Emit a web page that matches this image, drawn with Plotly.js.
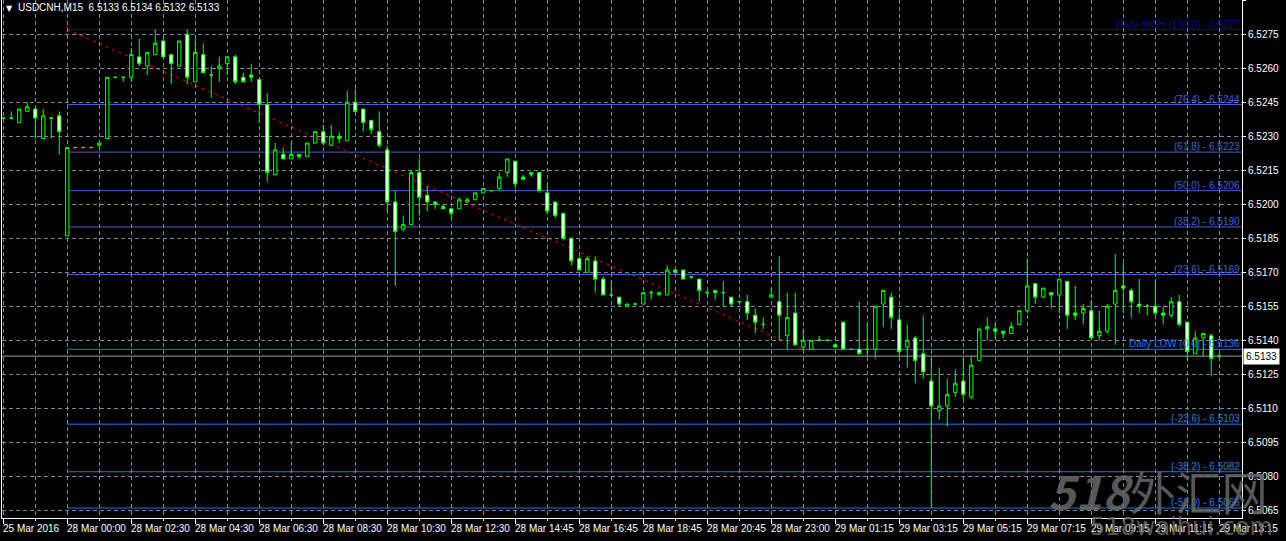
<!DOCTYPE html>
<html><head><meta charset="utf-8">
<script src="https://cdn.plot.ly/plotly-3.0.1.min.js"></script>
<style>html,body{margin:0;padding:0;background:#000;}#chart{width:1286px;height:541px;}</style>
</head><body><div id="chart"></div>
<script>
const symbolTitle = "USDCNH,M15\u00a0\u00a06.5133 6.5134 6.5132 6.5133";

const opens = [
6.5238,6.5238,6.5236,6.5241,6.5242,6.5229,6.5238,6.5239,6.5186,6.5225,
6.5225,6.5225,6.5226,6.5229,6.5256,6.5256,6.5256,6.5265,6.5261,6.5266,
6.5272,6.5266,6.5261,6.5275,6.5254,6.5266,6.5257,6.5260,6.5262,6.5265,
6.5256,6.5257,6.5255,6.5244,6.5213,6.5222,6.5220,6.5222,6.5221,6.5227,
6.5232,6.5226,6.5230,6.5228,6.5245,6.5242,6.5237,6.5232,6.5224,6.5201,
6.5189,6.5191,6.5214,6.5204,6.5201,6.5199,6.5198,6.5198,6.5201,6.5202,
6.5205,6.5206,6.5207,6.5214,6.5219,6.5212,6.5213,6.5214,6.5205,6.5201,
6.5196,6.5185,6.5176,6.5170,6.5175,6.5167,6.5160,6.5159,6.5155,6.5156,
6.5156,6.5161,6.5160,6.5160,6.5171,6.5171,6.5168,6.5167,6.5161,6.5162,
6.5161,6.5159,6.5157,6.5157,6.5151,6.5147,6.5159,6.5157,6.5142,6.5152,
6.5137,6.5136,6.5140,6.5140,6.5138,6.5148,6.5136,6.5136,6.5136,6.5136,
6.5156,6.5159,6.5149,6.5137,6.5141,6.5134,6.5122,6.5109,6.5111,6.5117,
6.5122,6.5115,6.5131,6.5145,6.5145,6.5144,6.5143,6.5147,6.5153,6.5165,
6.5159,6.5161,6.5160,6.5166,6.5152,6.5152,6.5153,6.5142,6.5144,6.5156,
6.5164,6.5162,6.5156,6.5155,6.5155,6.5152,6.5151,6.5157,6.5148,6.5134,
6.5141,6.5142,6.5133];
const highs = [
6.5238,6.5241,6.5242,6.5245,6.5242,6.5242,6.5238,6.5241,6.5225,6.5225,
6.5225,6.5225,6.5227,6.5256,6.5256,6.5256,6.5269,6.5273,6.5267,6.5277,
6.5273,6.5266,6.5272,6.5277,6.5273,6.5271,6.5261,6.5265,6.5265,6.5266,
6.5258,6.5262,6.5255,6.5249,6.5227,6.5225,6.5227,6.5222,6.5227,6.5232,
6.5235,6.5235,6.5232,6.5250,6.5251,6.5242,6.5237,6.5241,6.5226,6.5206,
6.5195,6.5215,6.5220,6.5208,6.5201,6.5200,6.5198,6.5203,6.5203,6.5205,
6.5207,6.5206,6.5214,6.5220,6.5219,6.5213,6.5214,6.5214,6.5209,6.5201,
6.5196,6.5185,6.5177,6.5177,6.5177,6.5168,6.5166,6.5159,6.5156,6.5156,
6.5161,6.5162,6.5161,6.5173,6.5171,6.5171,6.5168,6.5167,6.5162,6.5162,
6.5166,6.5159,6.5157,6.5160,6.5154,6.5150,6.5163,6.5177,6.5161,6.5161,
6.5145,6.5140,6.5142,6.5140,6.5138,6.5148,6.5136,6.5157,6.5148,6.5155,
6.5162,6.5161,6.5153,6.5147,6.5142,6.5151,6.5132,6.5128,6.5123,6.5127,
6.5132,6.5133,6.5145,6.5150,6.5148,6.5144,6.5148,6.5153,6.5176,6.5165,
6.5163,6.5161,6.5167,6.5166,6.5164,6.5156,6.5158,6.5153,6.5156,6.5178,
6.5174,6.5163,6.5167,6.5156,6.5167,6.5155,6.5159,6.5160,6.5148,6.5144,
6.5143,6.5143,6.5134];
const lows = [
6.5238,6.5238,6.5236,6.5241,6.5229,6.5229,6.5229,6.5222,6.5186,6.5225,
6.5225,6.5225,6.5225,6.5229,6.5256,6.5254,6.5254,6.5261,6.5257,6.5266,
6.5265,6.5253,6.5261,6.5253,6.5254,6.5258,6.5247,6.5254,6.5257,6.5253,
6.5254,6.5254,6.5236,6.5210,6.5213,6.5220,6.5220,6.5220,6.5221,6.5227,
6.5226,6.5226,6.5227,6.5228,6.5241,6.5232,6.5231,6.5225,6.5197,6.5164,
6.5188,6.5191,6.5195,6.5197,6.5198,6.5198,6.5194,6.5198,6.5201,6.5202,
6.5205,6.5206,6.5206,6.5212,6.5207,6.5211,6.5212,6.5205,6.5196,6.5194,
6.5184,6.5173,6.5171,6.5170,6.5161,6.5160,6.5160,6.5155,6.5155,6.5156,
6.5156,6.5158,6.5160,6.5160,6.5170,6.5167,6.5167,6.5157,6.5160,6.5158,
6.5155,6.5155,6.5157,6.5149,6.5143,6.5145,6.5159,6.5140,6.5136,6.5138,
6.5135,6.5136,6.5140,6.5140,6.5137,6.5136,6.5136,6.5134,6.5133,6.5132,
6.5146,6.5145,6.5133,6.5128,6.5121,6.5123,6.5067,6.5105,6.5102,6.5115,
6.5114,6.5114,6.5131,6.5140,6.5141,6.5141,6.5143,6.5147,6.5152,6.5156,
6.5159,6.5154,6.5152,6.5145,6.5149,6.5147,6.5141,6.5140,6.5143,6.5138,
6.5152,6.5150,6.5152,6.5151,6.5151,6.5147,6.5150,6.5146,6.5131,6.5134,
6.5133,6.5124,6.5132];
const closes = [
6.5238,6.5238,6.5242,6.5243,6.5238,6.5239,6.5238,6.5232,6.5225,6.5225,
6.5225,6.5225,6.5227,6.5256,6.5256,6.5256,6.5266,6.5262,6.5267,6.5271,
6.5265,6.5262,6.5272,6.5256,6.5267,6.5258,6.5257,6.5261,6.5265,6.5254,
6.5254,6.5256,6.5244,6.5214,6.5224,6.5220,6.5222,6.5221,6.5227,6.5232,
6.5227,6.5230,6.5229,6.5245,6.5241,6.5236,6.5233,6.5226,6.5201,6.5188,
6.5191,6.5214,6.5203,6.5201,6.5200,6.5198,6.5196,6.5202,6.5202,6.5205,
6.5207,6.5206,6.5212,6.5220,6.5209,6.5211,6.5214,6.5206,6.5197,6.5195,
6.5185,6.5175,6.5171,6.5176,6.5167,6.5160,6.5160,6.5156,6.5156,6.5156,
6.5161,6.5161,6.5161,6.5171,6.5170,6.5167,6.5168,6.5162,6.5161,6.5161,
6.5161,6.5156,6.5157,6.5152,6.5148,6.5147,6.5160,6.5151,6.5150,6.5138,
6.5140,6.5140,6.5140,6.5140,6.5137,6.5136,6.5136,6.5134,6.5136,6.5155,
6.5162,6.5150,6.5135,6.5140,6.5131,6.5126,6.5111,6.5111,6.5116,6.5121,
6.5116,6.5129,6.5145,6.5146,6.5144,6.5143,6.5146,6.5153,6.5164,6.5159,
6.5163,6.5160,6.5167,6.5151,6.5151,6.5154,6.5141,6.5144,6.5155,6.5162,
6.5163,6.5157,6.5155,6.5155,6.5152,6.5151,6.5157,6.5147,6.5135,6.5141,
6.5143,6.5132,6.5133];

const timeLabels = ["25 Mar 2016","28 Mar 00:00","28 Mar 02:30","28 Mar 04:30","28 Mar 06:30",
  "28 Mar 08:30","28 Mar 10:30","28 Mar 12:30","28 Mar 14:45","28 Mar 16:45","28 Mar 18:45",
  "28 Mar 20:45","28 Mar 23:00","29 Mar 01:15","29 Mar 03:15","29 Mar 05:15","29 Mar 07:15",
  "29 Mar 09:15","29 Mar 11:15","29 Mar 13:15"];
const timeLabelBars = [0,8,16,24,32,40,48,56,64,72,80,88,96,104,112,120,128,136,144,152];

const priceTicks = [6.5065,6.5080,6.5095,6.5110,6.5125,6.5140,6.5155,6.5170,6.5185,6.5200,
  6.5215,6.5230,6.5245,6.5260,6.5275,6.5290];

const fibPrices = [6.5277,6.5244,6.5223,6.5206,6.5190,6.5169,6.5136,6.5103,6.5082,6.5066];
const fibLabels = ["Daily HIGH (100.0) - 6.5277","(76.4) - 6.5244","(61.8) - 6.5223","(50.0) - 6.5206",
  "(38.2) - 6.5190","(23.6) - 6.5169","Daily LOW (0.0) - 6.5136","(-23.6) - 6.5103",
  "(-38.2) - 6.5082","(-50.0) - 6.5066"];
const fibColors = ["#0a0a96","#3d63d6","#3d63d6","#3d63d6","#3d63d6","#3d63d6",
  "#2479ee","#2479ee","#2479ee","#2479ee"];
const fibStartBar = 8, fibEndBar = 100;
const fibHigh = 6.5277, fibLow = 6.5136;
const currentPrice = 6.5133;

const xRange = [-0.16, 154.84];
const yRange = [6.50616, 6.52901];

const bars = opens.map((_, i) => i);
const gridColor = "#7a8898";
const gridDash = "4px,3px";
const axisFont = {family: "Liberation Sans, Arial, sans-serif", size: 10, color: "#ffffff"};

const trace = {
  type: "candlestick", x: bars, open: opens, high: highs, low: lows, close: closes,
  increasing: {line: {color: "#00ff00", width: 1}, fillcolor: "#000000"},
  decreasing: {line: {color: "#00ff00", width: 1}, fillcolor: "#ffffff"},
  whiskerwidth: 0, hoverinfo: "skip"
};

const shapes = [];
fibPrices.forEach((p, i) => {
  shapes.push({type: "line", xref: "x", yref: "y", x0: fibStartBar, x1: xRange[1], y0: p, y1: p,
    line: {color: fibColors[i], width: 1}, layer: "below"});
});
shapes.push({type: "line", xref: "x", yref: "y", x0: fibStartBar, x1: fibEndBar, y0: fibHigh, y1: fibLow,
  line: {color: "#ff0000", width: 1, dash: "3px,4px"}, layer: "below"});
shapes.push({type: "line", xref: "x", yref: "y", x0: fibStartBar, x1: fibStartBar, y0: fibHigh, y1: yRange[1],
  line: {color: "#ff0000", width: 1, dash: "3px,3px"}, layer: "below"});
shapes.push({type: "line", xref: "paper", yref: "y", x0: 0, x1: 1, y0: currentPrice, y1: currentPrice,
  line: {color: "#a0a0a0", width: 1}, layer: "below"});

const annotations = [];
timeLabels.forEach((t, i) => {
  annotations.push({xref: "x", yref: "paper", x: timeLabelBars[i], y: 0, xanchor: "left", yanchor: "top",
    xshift: -1, yshift: -4, text: t, showarrow: false, borderpad: 0,
    font: {family: "Liberation Sans Narrow, Liberation Sans, Arial, sans-serif", size: 10, color: "#ffffff"}});
});
fibLabels.forEach((t, i) => {
  annotations.push({xref: "paper", yref: "y", x: 1, y: fibPrices[i], xanchor: "right", yanchor: "bottom",
    xshift: -1, yshift: -1, text: t, showarrow: false, borderpad: 0,
    font: {family: "Liberation Sans, Arial, sans-serif", size: 10, color: fibColors[i]}});
});
annotations.push({xref: "paper", yref: "paper", x: 0, y: 1, xanchor: "left", yanchor: "top",
  xshift: 3, yshift: -3, text: "▼", showarrow: false, borderpad: 0,
  font: {family: "DejaVu Sans, sans-serif", size: 8, color: "#ffffff"}});
annotations.push({xref: "paper", yref: "paper", x: 0, y: 1, xanchor: "left", yanchor: "top",
  xshift: 15, yshift: -1, text: symbolTitle, showarrow: false, borderpad: 0,
  font: {family: "Liberation Sans, Arial, sans-serif", size: 10, color: "#ffffff"}});
annotations.push({xref: "paper", yref: "y", x: 1, y: currentPrice, xanchor: "left", yanchor: "middle",
  xshift: 1, text: currentPrice.toFixed(4), showarrow: false, bgcolor: "#ffffff", borderpad: 2,
  font: {family: "Liberation Sans, Arial, sans-serif", size: 10, color: "#000000"}});
annotations.push({xref: "paper", yref: "paper", x: 1, y: 0, xanchor: "right", yanchor: "bottom",
  xshift: 26, yshift: -6, text: "<i><b>518</b></i>外汇网", showarrow: false, borderpad: 0,
  font: {family: "Noto Sans CJK SC, sans-serif", size: 46, color: "rgba(105,105,105,0.85)"}});
annotations.push({xref: "paper", yref: "paper", x: 1, y: 0, xanchor: "right", yanchor: "top",
  xshift: 32, yshift: 6, text: "518waihui.com", showarrow: false, borderpad: 0,
  font: {family: "DejaVu Sans, sans-serif", size: 24, color: "rgba(105,105,105,0.85)"}});

const layout = {
  width: 1286, height: 541,
  margin: {l: 2, r: 44, t: 0, b: 23, pad: 0},
  paper_bgcolor: "#000000", plot_bgcolor: "#000000",
  showlegend: false, hovermode: false, boxgap: 0.4,
  xaxis: {
    type: "linear", range: xRange, rangeslider: {visible: false}, fixedrange: true,
    showline: true, linecolor: "#ffffff", linewidth: 1, zeroline: false,
    tickmode: "array", tickvals: timeLabelBars, showticklabels: false,
    ticks: "outside", ticklen: 5, tickcolor: "#ffffff", tickwidth: 1,
    showgrid: true, gridcolor: gridColor, griddash: gridDash, gridwidth: 1,
    minor: {tickmode: "linear", tick0: 0, dtick: 4, ticks: "outside", ticklen: 2, tickcolor: "#ffffff",
      showgrid: true, gridcolor: gridColor, griddash: gridDash, gridwidth: 1}
  },
  yaxis: {
    side: "right", range: yRange, fixedrange: true,
    showline: true, mirror: true, linecolor: "#ffffff", linewidth: 1, zeroline: false,
    tickmode: "array", tickvals: priceTicks, ticktext: priceTicks.map(v => v.toFixed(4)),
    ticks: "outside", ticklen: 3, tickcolor: "#ffffff", tickfont: axisFont,
    showgrid: true, gridcolor: gridColor, griddash: gridDash, gridwidth: 1
  },
  shapes: shapes,
  annotations: annotations
};

Plotly.newPlot("chart", [trace], layout, {staticPlot: true, displayModeBar: false});
</script>
</body></html>
